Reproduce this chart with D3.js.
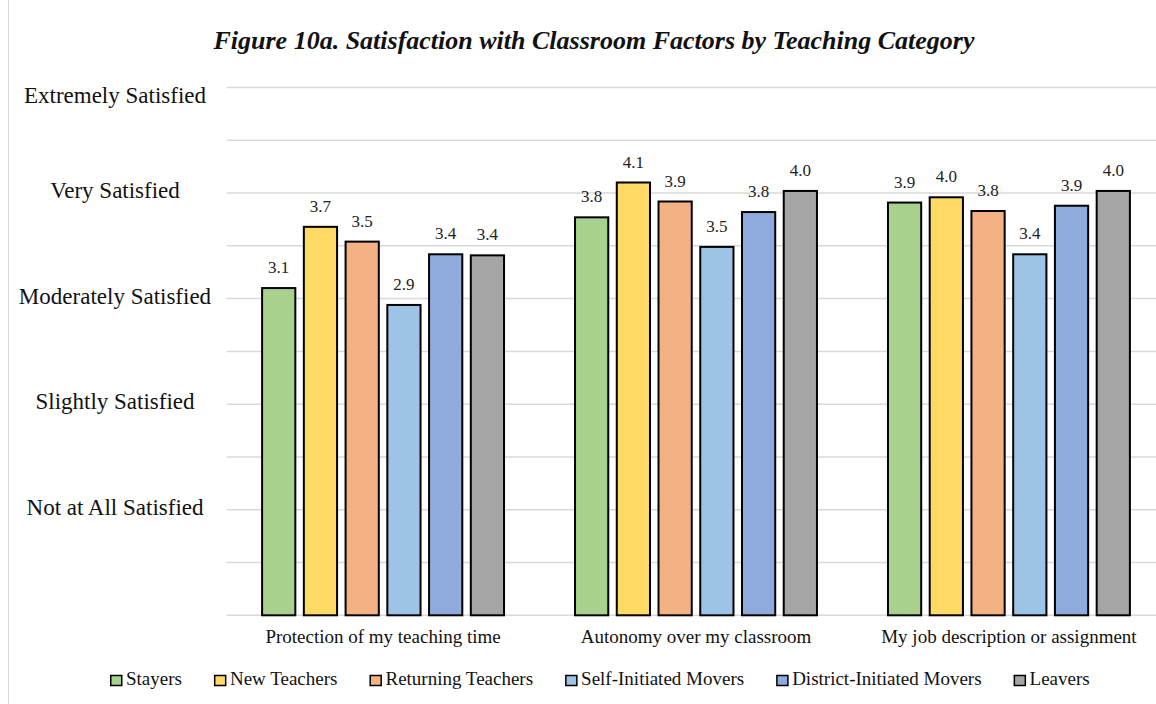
<!DOCTYPE html>
<html>
<head>
<meta charset="utf-8">
<script src="https://cdn.jsdelivr.net/npm/d3@7"></script>
<style>
  html, body { margin: 0; padding: 0; background: #fff; }
  svg { display: block; font-family: "Liberation Serif", "DejaVu Serif", serif; }
</style>
</head>
<body>
<svg id="chart" width="1156" height="704"></svg>
<script>
// ---- data ----
const categories = ["Protection of my teaching time", "Autonomy over my classroom", "My job description or assignment"];
const seriesNames = ["Stayers", "New Teachers", "Returning Teachers", "Self-Initiated Movers", "District-Initiated Movers", "Leavers"];
const seriesColors = ["#a9d18e", "#ffd966", "#f4b183", "#9dc3e6", "#8faadc", "#a5a5a5"];
const stayers        = [3.10, 3.77, 3.91];
const newTeachers    = [3.68, 4.10, 3.96];
const returning      = [3.54, 3.92, 3.83];
const selfMovers     = [2.94, 3.49, 3.42];
const districtMovers = [3.42, 3.82, 3.88];
const leavers        = [3.41, 4.02, 4.02];
const yTickValues = [0, 0.5, 1, 1.5, 2, 2.5, 3, 3.5, 4, 4.5, 5];
const yLabelValues = [1, 2, 3, 4, 5];
const yLabelTexts = ["Not at All Satisfied", "Slightly Satisfied", "Moderately Satisfied", "Very Satisfied", "Extremely Satisfied"];
const title = "Figure 10a. Satisfaction with Classroom Factors by Teaching Category";

const seriesValues = [stayers, newTeachers, returning, selfMovers, districtMovers, leavers];

const svg = d3.select("#chart");

// left frame line
svg.append("line").attr("x1", 8.5).attr("x2", 8.5).attr("y1", 0).attr("y2", 704)
  .attr("stroke", "#d9d9d9").attr("stroke-width", 1);

const y = d3.scaleLinear().domain([0, 5]).range([615.3, 87.5]);
const x0 = d3.scaleBand().domain(categories).range([226.6, 1165.4]).padding(0);
const x1 = d3.scaleBand().domain(seriesNames).range([35.5, x0.bandwidth() - 35.5])
  .paddingInner(0.204).paddingOuter(0);

// gridlines
svg.append("g").selectAll("line").data(yTickValues).join("line")
  .attr("x1", 226.6).attr("x2", 1156)
  .attr("y1", d => y(d)).attr("y2", d => y(d))
  .attr("stroke", "#d9d9d9").attr("stroke-width", 1.5);

// y labels
svg.append("g").selectAll("text").data(yLabelValues).join("text")
  .attr("x", 115)
  .attr("y", (d, i) => Math.max(y(d) - 3, y(5) + 7.5))
  .attr("dy", "0.35em")
  .attr("text-anchor", "middle")
  .attr("font-size", 23)
  .attr("fill", "#111")
  .text((d, i) => yLabelTexts[i]);

// bars
const groups = svg.append("g").selectAll("g").data(categories).join("g")
  .attr("transform", d => `translate(${x0(d)},0)`);

groups.selectAll("rect").data((c, ci) => seriesNames.map((s, si) => ({ s, si, v: seriesValues[si][ci] })))
  .join("rect")
  .attr("x", d => x1(d.s))
  .attr("width", x1.bandwidth())
  .attr("y", d => y(d.v))
  .attr("height", d => y(0) - y(d.v))
  .attr("fill", d => seriesColors[d.si])
  .attr("stroke", "#000").attr("stroke-width", 2);

groups.selectAll("text.val").data((c, ci) => seriesNames.map((s, si) => ({ s, si, v: seriesValues[si][ci] })))
  .join("text").attr("class", "val")
  .attr("x", d => x1(d.s) + x1.bandwidth() / 2)
  .attr("y", d => y(d.v) - 15)
  .attr("text-anchor", "middle")
  .attr("font-size", 17)
  .attr("fill", "#222")
  .text(d => d.v.toFixed(1));

// category labels
svg.append("g").selectAll("text").data(categories).join("text")
  .attr("x", d => x0(d) + x0.bandwidth() / 2)
  .attr("y", 643)
  .attr("text-anchor", "middle")
  .attr("font-size", 19)
  .attr("fill", "#111")
  .text(d => d);

// title
svg.append("text")
  .attr("x", 594).attr("y", 49)
  .attr("text-anchor", "middle")
  .attr("font-size", 26)
  .attr("font-weight", "bold")
  .attr("font-style", "italic")
  .attr("fill", "#111")
  .text(title);

// legend
const legend = svg.append("g");
let lx = 110;
seriesNames.forEach((name, i) => {
  legend.append("rect")
    .attr("x", lx + 0.75).attr("y", 675.5)
    .attr("width", 11).attr("height", 10)
    .attr("fill", seriesColors[i]).attr("stroke", "#000").attr("stroke-width", 1.5);
  const t = legend.append("text")
    .attr("x", lx + 16).attr("y", 685)
    .attr("font-size", 19)
    .attr("fill", "#111")
    .text(name);
  lx += 16 + t.node().getComputedTextLength() + 32;
});
</script>
</body>
</html>
